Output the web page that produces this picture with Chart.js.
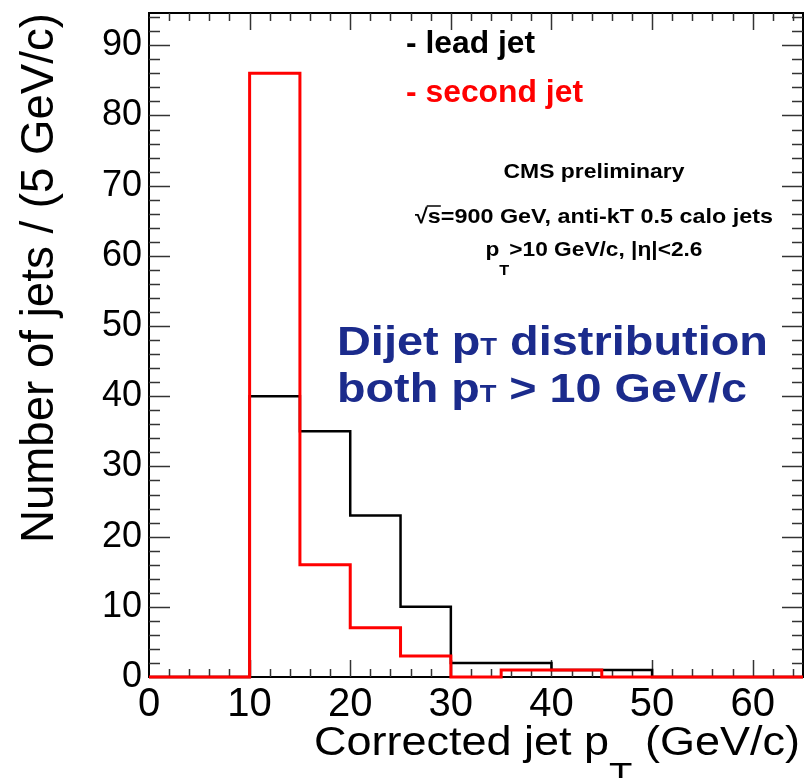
<!DOCTYPE html>
<html>
<head>
<meta charset="utf-8">
<script src="https://cdn.jsdelivr.net/npm/chart.js@4/dist/chart.umd.min.js"></script>
<style>
  html, body { margin: 0; padding: 0; background: #fff; }
  #wrap { width: 805px; height: 778px; position: relative; }
</style>
</head>
<body>
<div id="wrap"><canvas id="c" width="805" height="778"></canvas></div>
<script>
// ---- data ----
const binEdges = [0, 5, 10, 15, 20, 25, 30, 35, 40, 45, 50, 55, 60, 65];
const leadJet   = [0, 0, 40, 35, 23, 10, 2, 2, 1, 1, 0, 0, 0];
const secondJet = [0, 0, 86, 16, 7, 3, 0, 1, 1, 0, 0, 0, 0];
const seriesNames = ['- lead jet', '- second jet'];
const xTitle = ['Corrected jet p', 'T', ' (GeV/c)'];
const yTitle = 'Number of jets / (5 GeV/c)';
const xRange = [0, 65];
const yRange = [0, 94.6];

const FONT = '"Liberation Sans", Arial, Helvetica, sans-serif';
const NAVY = '#1b2b8c';

function toSteps(vals) {
  return binEdges.map((x, i) => ({ x: x, y: vals[Math.min(i, vals.length - 1)] }));
}

function drawRich(ctx, segs, x, y, opts) {
  let nat = 0;
  segs.forEach(s => { ctx.font = s.font; s.w = ctx.measureText(s.text).width; nat += s.w; });
  const sx = opts.width ? opts.width / nat : 1;
  const total = nat * sx;
  const x0 = opts.align === 'center' ? x - total / 2 : opts.align === 'right' ? x - total : x;
  ctx.save();
  ctx.translate(x0, y);
  ctx.scale(sx, 1);
  ctx.textAlign = 'left';
  ctx.textBaseline = 'alphabetic';
  let cx = 0;
  segs.forEach(s => {
    ctx.font = s.font;
    ctx.fillStyle = s.color || opts.color || '#000';
    ctx.fillText(s.text, cx, s.dy || 0);
    if (s.over) {
      ctx.strokeStyle = ctx.fillStyle;
      ctx.lineWidth = 1.5;
      ctx.beginPath();
      ctx.moveTo(cx - 1, -s.over);
      ctx.lineTo(cx + s.w, -s.over);
      ctx.stroke();
    }
    cx += s.w;
  });
  ctx.restore();
}

const frameTicks = {
  id: 'frameTicks',
  beforeDatasetsDraw(chart) {
    const { ctx, chartArea: a, scales: { x, y } } = chart;
    ctx.save();
    ctx.strokeStyle = '#000';
    ctx.lineWidth = 2;
    ctx.strokeRect(a.left, a.top, a.right - a.left, a.bottom - a.top);
    ctx.strokeStyle = '#333';
    ctx.lineWidth = 1.5;
    const seg = (x1, y1, x2, y2) => { ctx.beginPath(); ctx.moveTo(x1, y1); ctx.lineTo(x2, y2); ctx.stroke(); };
    for (let v = x.min + 2; v < x.max; v += 2) {
      const px = Math.round(x.getPixelForValue(v)) + 0.5;
      const L = (Math.round(v) % 10 === 0) ? 17 : 8;
      seg(px, a.bottom, px, a.bottom - L);
      seg(px, a.top, px, a.top + L);
    }
    for (let v = y.min + 2; v < y.max; v += 2) {
      const py = Math.round(y.getPixelForValue(v)) + 0.5;
      const L = (Math.round(v) % 10 === 0) ? 21 : 11;
      seg(a.left, py, a.left + L, py);
      seg(a.right, py, a.right - L, py);
    }
    ctx.restore();
  },
  afterDraw(chart) {
    const ctx = chart.ctx;
    ctx.save();
    // y axis title (rotated)
    ctx.save();
    ctx.translate(53, 13);
    ctx.rotate(-Math.PI / 2);
    drawRich(ctx, [{ text: yTitle, font: '46px ' + FONT }], 0, 0, { align: 'right', width: 530 });
    ctx.restore();
    // x axis title
    drawRich(ctx, [
      { text: xTitle[0], font: '40px ' + FONT },
      { text: xTitle[1], font: '34px ' + FONT, dy: 31 },
      { text: xTitle[2], font: '40px ' + FONT }
    ], 314, 755, { align: 'left', width: 486 });
    // legend-like labels
    drawRich(ctx, [{ text: seriesNames[0], font: 'bold 31px ' + FONT }], 406, 53, { align: 'left', width: 129, color: '#000' });
    drawRich(ctx, [{ text: seriesNames[1], font: 'bold 31px ' + FONT }], 406, 102, { align: 'left', width: 177, color: '#ff0000' });
    // CMS block
    drawRich(ctx, [{ text: 'CMS preliminary', font: 'bold 21px ' + FONT }], 594, 178, { align: 'center', width: 181 });
    drawRich(ctx, [
      { text: '√', font: 'bold 21px ' + FONT },
      { text: 's', font: 'bold 21px ' + FONT, over: 17 },
      { text: '=900 GeV, anti-kT 0.5 calo jets', font: 'bold 21px ' + FONT }
    ], 594, 223, { align: 'center', width: 358 });
    drawRich(ctx, [
      { text: 'p', font: 'bold 21px ' + FONT },
      { text: 'T', font: 'bold 15px ' + FONT, dy: 19 },
      { text: '>10 GeV/c, |η|<2.6', font: 'bold 21px ' + FONT }
    ], 594, 256, { align: 'center', width: 217 });
    // blue annotation
    drawRich(ctx, [
      { text: 'Dijet p', font: 'bold 41px ' + FONT },
      { text: 'T', font: 'bold 24px ' + FONT },
      { text: ' distribution', font: 'bold 41px ' + FONT }
    ], 337, 355, { align: 'left', width: 431, color: NAVY });
    drawRich(ctx, [
      { text: 'both p', font: 'bold 41px ' + FONT },
      { text: 'T', font: 'bold 24px ' + FONT },
      { text: ' > 10 GeV/c', font: 'bold 41px ' + FONT }
    ], 337, 402, { align: 'left', width: 410, color: NAVY });
    ctx.restore();
  }
};

new Chart(document.getElementById('c'), {
  type: 'line',
  data: {
    datasets: [
      {
        label: seriesNames[0],
        data: toSteps(leadJet),
        borderColor: '#000000',
        borderWidth: 2.5,
        stepped: 'before',
        pointRadius: 0,
        fill: false,
        order: 2,
        clip: false,
        borderJoinStyle: 'miter'
      },
      {
        label: seriesNames[1],
        data: toSteps(secondJet),
        borderColor: '#ff0000',
        borderWidth: 3,
        stepped: 'before',
        pointRadius: 0,
        fill: false,
        order: 1,
        clip: false,
        borderJoinStyle: 'miter'
      }
    ]
  },
  options: {
    responsive: false,
    animation: false,
    devicePixelRatio: 1,
    layout: { padding: { top: 13, right: 2, left: 0, bottom: 0 } },
    plugins: { legend: { display: false }, tooltip: { enabled: false } },
    scales: {
      x: {
        type: 'linear',
        min: xRange[0], max: xRange[1],
        grid: { display: false, drawTicks: false },
        border: { display: false },
        ticks: {
          stepSize: 10, includeBounds: false, maxRotation: 0, autoSkip: false,
          color: '#000', padding: 4, font: { family: FONT, size: 40 }
        },
        afterFit(scale) { scale.height = 101; scale.paddingLeft = 0; scale.paddingRight = 0; }
      },
      y: {
        min: yRange[0], max: yRange[1],
        grid: { display: false, drawTicks: false },
        border: { display: false },
        ticks: {
          stepSize: 10, includeBounds: false,
          color: '#000', padding: 7, font: { family: FONT, size: 36 }
        },
        afterFit(scale) { scale.width = 149; scale.paddingTop = 0; scale.paddingBottom = 0; }
      }
    }
  },
  plugins: [frameTicks]
});
</script>
</body>
</html>
